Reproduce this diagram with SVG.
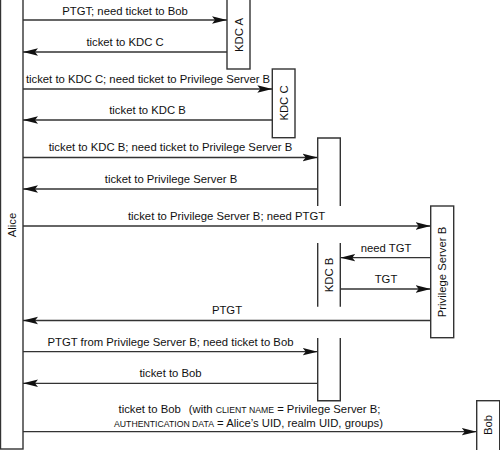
<svg xmlns="http://www.w3.org/2000/svg" width="500" height="450" viewBox="0 0 500 450">
<defs>
<marker id="ah" markerUnits="userSpaceOnUse" markerWidth="16" markerHeight="10" viewBox="0 0 16 10" refX="15" refY="5" orient="auto">
<path d="M0,1.3 L15,5 L0,8.7 L3,5 z" fill="#111"/>
</marker>
<style>
.box{fill:#fff;stroke:#333;stroke-width:1.4}
.ln{fill:none;stroke:#333;stroke-width:1.4}
.arr{fill:none;stroke:#333;stroke-width:1.3;marker-end:url(#ah)}
text{font-family:"Liberation Sans",Arial,sans-serif;font-size:11.3px;fill:#111}
.m{text-anchor:middle}
.sc{font-size:8.7px}
</style>
</defs>
<rect width="500" height="450" fill="#fff"/>
<g id="alice"><rect class="box" x="0.5" y="-1" width="22.5" height="450"/><text class="m" transform="translate(15.5,225) rotate(-90)">Alice</text></g>
<g id="kdcA"><rect class="box" x="227" y="-1" width="23" height="70"/><text class="m" transform="translate(243,35) rotate(-90)">KDC A</text></g>
<g id="kdcC"><rect class="box" x="272.3" y="69" width="22.7" height="68.7"/><text class="m" transform="translate(288,103) rotate(-90)">KDC C</text></g>
<g id="kdcB">
<path class="ln" d="M317.7,206 V138 H340.3 V206 M317.7,243 V306.7 M340.3,243 V306.7 M317.7,338 V400.7 H340.3 V338"/>
<text class="m" transform="translate(333,275) rotate(-90)">KDC B</text></g>
<g id="psB"><rect class="box" x="430.7" y="206" width="23" height="131.7"/><text class="m" transform="translate(446,272) rotate(-90)">Privilege Server B</text></g>
<g id="bob"><rect class="box" x="476.7" y="400.7" width="23" height="50"/><text class="m" transform="translate(492,425) rotate(-90)">Bob</text></g>
<g id="connectors">
<line class="arr" x1="23" y1="20" x2="227" y2="20"/>
<line class="arr" x1="227" y1="52" x2="23" y2="52"/>
<line class="arr" x1="23" y1="89" x2="272.3" y2="89"/>
<line class="arr" x1="272.3" y1="120" x2="23" y2="120"/>
<line class="arr" x1="23" y1="157.5" x2="317.7" y2="157.5"/>
<line class="arr" x1="317.7" y1="189" x2="23" y2="189"/>
<line class="arr" x1="23" y1="226" x2="430.7" y2="226"/>
<line class="arr" x1="430.7" y1="257.7" x2="340.3" y2="257.7"/>
<line class="arr" x1="340.3" y1="289" x2="430.7" y2="289"/>
<line class="arr" x1="430.7" y1="320.5" x2="23" y2="320.5"/>
<line class="arr" x1="23" y1="351.7" x2="317.7" y2="351.7"/>
<line class="arr" x1="317.7" y1="383.3" x2="23" y2="383.3"/>
<line class="arr" x1="23" y1="431.7" x2="476.7" y2="431.7"/>
</g>
<g id="labels">
<text class="m" x="125" y="15">PTGT; need ticket to Bob</text>
<text class="m" x="125" y="46">ticket to KDC C</text>
<text class="m" x="148" y="83">ticket to KDC C; need ticket to Privilege Server B</text>
<text class="m" x="147.5" y="114">ticket to KDC B</text>
<text class="m" x="170.5" y="151">ticket to KDC B; need ticket to Privilege Server B</text>
<text class="m" x="171" y="183">ticket to Privilege Server B</text>
<text class="m" x="226.5" y="219.5">ticket to Privilege Server B; need PTGT</text>
<text class="m" x="386" y="252">need TGT</text>
<text class="m" x="386" y="283">TGT</text>
<text class="m" x="227" y="314">PTGT</text>
<text class="m" x="170.5" y="346">PTGT from Privilege Server B; need ticket to Bob</text>
<text class="m" x="170.5" y="377">ticket to Bob</text>
<text class="m" x="249.5" y="413">ticket to Bob<tspan dx="8">(with </tspan><tspan class="sc">CLIENT NAME</tspan> = Privilege Server B;</text>
<text class="m" x="248.5" y="426.5"><tspan class="sc">AUTHENTICATION DATA</tspan> = Alice’s UID, realm UID, groups)</text>
</g>
</svg>
